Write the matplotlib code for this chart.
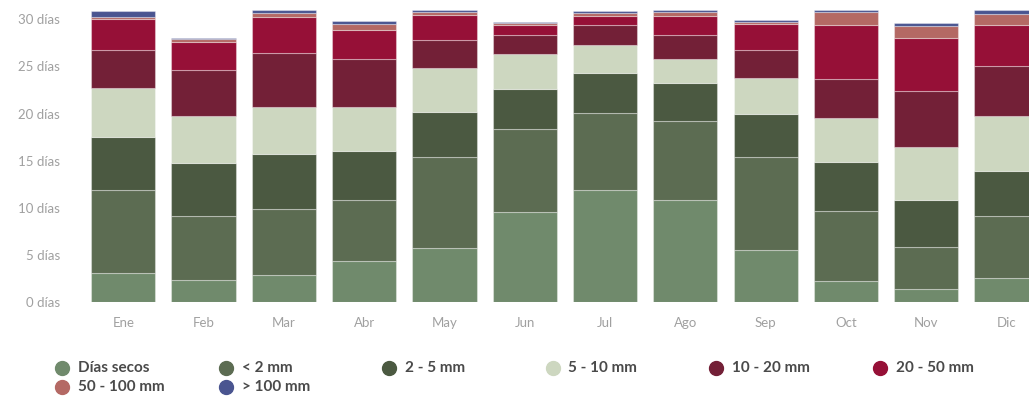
import matplotlib
matplotlib.use("Agg")
import matplotlib.pyplot as plt
from matplotlib.lines import Line2D
import numpy as np

# monthly number of days per precipitation class
months = ["Ene", "Feb", "Mar", "Abr", "May", "Jun", "Jul", "Ago", "Sep", "Oct", "Nov", "Dic"]
dias_secos = [3.1, 2.3, 2.9, 4.3, 5.7, 9.6, 11.9, 10.8, 5.5, 2.2, 1.35, 2.5]
lt_2mm     = [8.8, 6.8, 7.0, 6.5, 9.7, 8.8, 8.2, 8.4, 9.85, 7.5, 4.5, 6.6]
mm_2_5     = [5.6, 5.7, 5.8, 5.2, 4.8, 4.2, 4.2, 4.1, 4.65, 5.2, 5.0, 4.8]
mm_5_10    = [5.2, 4.9, 5.0, 4.7, 4.6, 3.7, 3.0, 2.5, 3.8, 4.6, 5.6, 5.8]
mm_10_20   = [4.1, 4.9, 5.7, 5.1, 3.0, 2.0, 2.1, 2.5, 3.0, 4.2, 5.9, 5.4]
mm_20_50   = [3.2, 3.0, 3.9, 3.1, 2.7, 1.1, 1.0, 2.1, 2.7, 5.7, 5.7, 4.3]
mm_50_100  = [0.3, 0.3, 0.4, 0.6, 0.3, 0.2, 0.3, 0.4, 0.25, 1.4, 1.3, 1.2]
gt_100mm   = [0.6, 0.1, 0.3, 0.3, 0.2, 0.1, 0.2, 0.2, 0.2, 0.2, 0.25, 0.4]

series = [dias_secos, lt_2mm, mm_2_5, mm_5_10, mm_10_20, mm_20_50, mm_50_100, gt_100mm]
labels = ["Días secos", "< 2 mm", "2 - 5 mm", "5 - 10 mm", "10 - 20 mm", "20 - 50 mm",
          "50 - 100 mm", "> 100 mm"]
colors = ["#708a6c", "#5c6c52", "#4b5941", "#cdd7c0", "#732037", "#961037",
          "#b46964", "#4a5590"]

yticks = [0, 5, 10, 15, 20, 25, 30]
ytick_labels = ["%d días" % v for v in yticks]

plt.rcParams["font.family"] = ["Lato", "DejaVu Sans"]

fig = plt.figure(figsize=(10.29, 3.96), dpi=100)
ax = fig.add_axes([0.073, 0.2374, 0.927, 0.7374])

x = np.arange(len(months))
bottom = np.zeros(len(months))
for vals, lab, col in zip(series, labels, colors):
    ax.bar(x, vals, width=0.8, bottom=bottom, color=col, label=lab,
           edgecolor=(1, 1, 1, 0.35), linewidth=0.8)
    bottom += np.array(vals)

ax.set_xlim(-0.6, 11.28)
ax.set_ylim(0, 31)
ax.set_xticks(x)
ax.set_xticklabels(months)
ax.set_yticks(yticks)
ax.set_yticklabels(ytick_labels)
ax.tick_params(axis="both", length=0, labelsize=9.5, colors="#a0a0a0")
ax.tick_params(axis="x", pad=11)
ax.tick_params(axis="y", pad=11)
for s in ax.spines.values():
    s.set_visible(False)

# legend laid out in two rows like the original
for i, (lab, col) in enumerate(zip(labels, colors)):
    row, c = divmod(i, 6)
    xd = (62 + 163.5 * c) / 1029
    yd = 1 - (368 + 19 * row) / 396
    fig.add_artist(Line2D([xd], [yd], marker="o", markersize=10, color=col,
                          linestyle="none", transform=fig.transFigure))
    fig.text(xd + 16 / 1029, yd, lab, ha="left", va="center", fontsize=11,
             fontweight="bold", color="#4a4a4a")

fig.savefig("out.png", dpi=100)
